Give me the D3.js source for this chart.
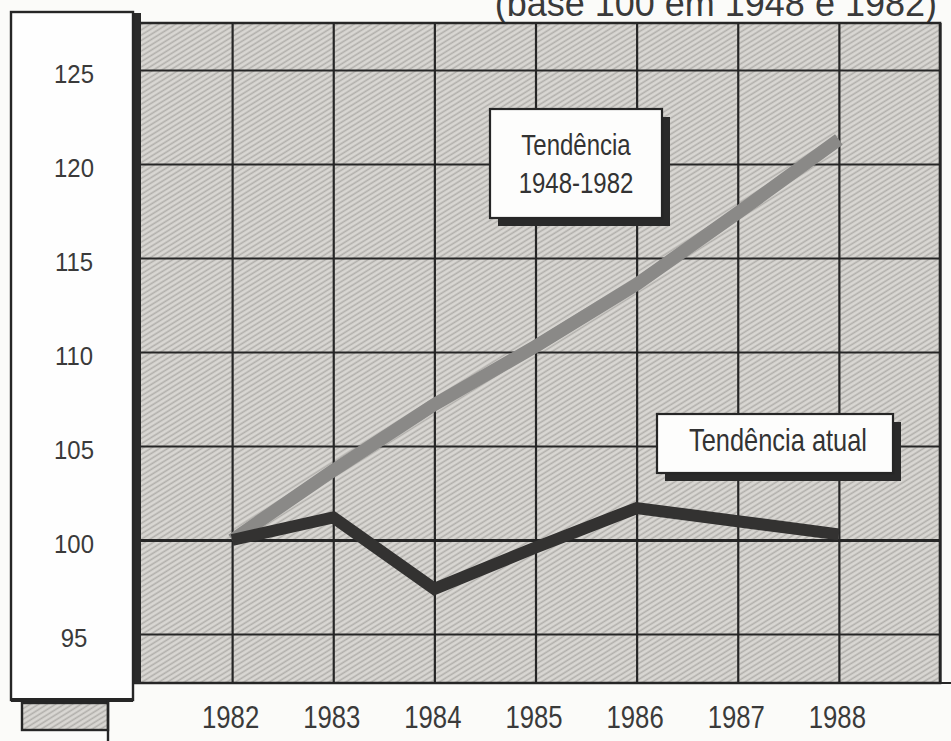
<!DOCTYPE html>
<html>
<head>
<meta charset="utf-8">
<script src="https://cdn.jsdelivr.net/npm/d3@7"></script>
<style>
  html, body { margin: 0; padding: 0; background: #fbfbf9; }
  svg { display: block; }
  .reg { font-family: "Liberation Sans", Arial, sans-serif; }
</style>
</head>
<body>
<svg id="chart" width="951" height="741"></svg>
<script>
//
// Data
//
var years = [1982, 1983, 1984, 1985, 1986, 1987, 1988]
// trend 1948-1982 projected (base 100)
var trendHist = [100, 103.7, 107.2, 110.3, 113.6, 117.4, 121.3]
// current trend
var trendAtual = [100, 101.2, 97.4, 99.6, 101.7, 101.0, 100.3]
var yTicks = [95, 100, 105, 110, 115, 120, 125]
var gridYears = [1982, 1983, 1984, 1985, 1986, 1987, 1988, 1989]
var titleText = '(base 100 em 1948 e 1982)'
var labelHist = ['Tendência', '1948-1982']
var labelAtual = 'Tendência atual'

//
// Layout
//
var width = 951, height = 741
var plotLeft = 133, plotRight = 940, plotTop = 23, plotBottom = 683
var ink = '#262626'
var condensed = 0.8

var svg = d3.select('#chart')

var x = d3.scaleLinear().domain([1981, 1989]).range([131, 940])
var y = d3.scaleLinear().domain([100, 125]).range([540, 70])

// hatch pattern
var defs = svg.append('defs')
var pat = defs.append('pattern')
  .attr('id', 'hatch')
  .attr('patternUnits', 'userSpaceOnUse')
  .attr('width', 4.5).attr('height', 4.5)
  .attr('patternTransform', 'rotate(-32)')
pat.append('rect').attr('width', 4.5).attr('height', 4.5).attr('fill', '#d9d7d3')
pat.append('line').attr('x1', 0).attr('y1', 1.2).attr('x2', 4.5).attr('y2', 1.2)
  .attr('stroke', '#b1afab').attr('stroke-width', 1.6)

// title, cut at the top edge
svg.append('text')
  .attr('class', 'reg')
  .attr('x', 937).attr('y', 16)
  .attr('text-anchor', 'end')
  .attr('font-size', 36)
  .attr('fill', '#3a3a3a')
  .text(titleText)

// plot area
svg.append('rect')
  .attr('x', plotLeft).attr('y', plotTop)
  .attr('width', plotRight - plotLeft).attr('height', plotBottom - plotTop)
  .attr('fill', 'url(#hatch)')

// grid via axes
svg.append('g')
  .attr('transform', 'translate(' + plotLeft + ',0)')
  .call(d3.axisLeft(y).tickValues(yTicks).tickSize(-(plotRight - plotLeft)).tickFormat(''))
  .call(function(g) { g.select('.domain').remove() })
  .call(function(g) {
    g.selectAll('line').attr('stroke', ink)
      .attr('stroke-width', function(d) { return d === 100 ? 3 : 2.2 })
  })

svg.append('g')
  .attr('transform', 'translate(0,' + plotBottom + ')')
  .call(d3.axisBottom(x).tickValues(gridYears).tickSize(-(plotBottom - plotTop)).tickFormat(''))
  .call(function(g) { g.select('.domain').remove() })
  .call(function(g) { g.selectAll('line').attr('stroke', ink).attr('stroke-width', 2.2) })

// frame
svg.append('path')
  .attr('d', 'M' + plotLeft + ',' + plotTop + 'H' + plotRight + 'V' + plotBottom + 'H' + plotLeft)
  .attr('fill', 'none').attr('stroke', ink).attr('stroke-width', 2.6)
svg.append('line')
  .attr('x1', plotRight).attr('x2', width).attr('y1', plotBottom).attr('y2', plotBottom)
  .attr('stroke', ink).attr('stroke-width', 2)

// lines
var line = d3.line()
  .x(function(d, i) { return x(years[i]) })
  .y(function(d) { return y(d) })

svg.append('path')
  .datum(trendHist)
  .attr('d', line)
  .attr('fill', 'none')
  .attr('stroke', '#8a8987')
  .attr('stroke-width', 13)
  .attr('stroke-linecap', 'butt')

svg.append('path')
  .datum(trendAtual)
  .attr('d', line)
  .attr('fill', 'none')
  .attr('stroke', '#333231')
  .attr('stroke-width', 12)
  .attr('stroke-linejoin', 'miter')
  .attr('stroke-linecap', 'butt')

// label boxes with drop shadow
function labelBox(x0, y0, w, h) {
  var g = svg.append('g')
  g.append('rect').attr('x', x0 + 8).attr('y', y0 + 8).attr('width', w).attr('height', h)
    .attr('fill', '#2a2a2a')
  g.append('rect').attr('x', x0).attr('y', y0).attr('width', w).attr('height', h)
    .attr('fill', '#fdfdfc').attr('stroke', ink).attr('stroke-width', 2.2)
  return g
}

var b1 = labelBox(490, 109, 172, 109)
b1.append('g')
  .attr('transform', 'translate(576,0) scale(' + condensed + ',1)')
  .selectAll('text')
  .data(labelHist)
  .enter().append('text')
  .attr('class', 'reg')
  .attr('x', 0)
  .attr('y', function(d, i) { return 155 + i * 38 })
  .attr('text-anchor', 'middle')
  .attr('font-size', 30)
  .attr('fill', '#333')
  .text(function(d) { return d })

var b2 = labelBox(657, 414, 236, 59)
b2.append('g')
  .attr('transform', 'translate(778,0) scale(0.82,1)')
  .append('text')
  .attr('class', 'reg')
  .attr('x', 0).attr('y', 451)
  .attr('text-anchor', 'middle')
  .attr('font-size', 31)
  .attr('fill', '#333')
  .text(labelAtual)

// left white box holding the y labels
svg.append('rect')
  .attr('x', 133).attr('y', 13).attr('width', 8).attr('height', plotBottom - 13)
  .attr('fill', '#2a2a2a')
svg.append('rect')
  .attr('x', 11).attr('y', 12).attr('width', 122).attr('height', 688)
  .attr('fill', '#fefefe').attr('stroke', ink).attr('stroke-width', 2.4)
svg.append('rect')
  .attr('x', 11).attr('y', 698).attr('width', 122).attr('height', 4)
  .attr('fill', ink)

var yAxis = svg.append('g')
  .attr('transform', 'translate(74,4)')
  .call(d3.axisLeft(y).tickValues(yTicks).tickSize(0).tickPadding(0))
yAxis.select('.domain').remove()
yAxis.selectAll('text')
  .attr('class', 'reg')
  .attr('text-anchor', 'middle')
  .attr('font-size', 26)
  .attr('fill', '#3a3a3a')
  .attr('transform', 'scale(0.92,1)')

// small hatched block under the box
svg.append('rect')
  .attr('x', 22).attr('y', 703).attr('width', 86).attr('height', 27)
  .attr('fill', 'url(#hatch)').attr('stroke', ink).attr('stroke-width', 2.4)
svg.append('line')
  .attr('x1', 108).attr('x2', 108).attr('y1', 700).attr('y2', height)
  .attr('stroke', ink).attr('stroke-width', 2.4)

// x labels
var xAxis = svg.append('g')
  .attr('transform', 'translate(-2,' + plotBottom + ')')
  .call(d3.axisBottom(x).tickValues(years).tickSize(0).tickPadding(0).tickFormat(d3.format('d')))
xAxis.select('.domain').remove()
xAxis.selectAll('text')
  .attr('class', 'reg')
  .attr('dy', null)
  .attr('y', 45)
  .attr('font-size', 31)
  .attr('fill', '#3a3a3a')
  .attr('transform', 'scale(0.83,1)')
</script>
</body>
</html>
